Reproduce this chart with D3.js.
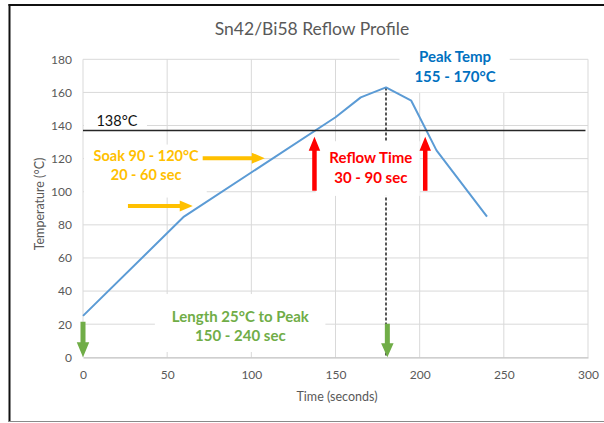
<!DOCTYPE html>
<html>
<head>
<meta charset="utf-8">
<script src="https://cdn.jsdelivr.net/npm/d3@7"></script>
<style>
  html, body { margin: 0; padding: 0; background: #fff; }
  svg { display: block; }
  text { font-family: Lato, "Open Sans", sans-serif; }
</style>
</head>
<body>
<svg id="chart"></svg>
<script>
// reflow profile (time in s, temperature in °C)
const times = [0, 60, 150, 165, 180, 195, 210, 240];
const temps = [25, 85, 145, 157, 163, 155, 125, 85];
const xTicks = [0, 50, 100, 150, 200, 250, 300];
const yTicks = [0, 20, 40, 60, 80, 100, 120, 140, 160, 180];
const liquidus = 137;   // where the 138°C line sits on the chart
const peakTime = 180;
const peakTemp = 163;

const width = 604;
const height = 423;
const margin = { top: 59.3, right: 16, bottom: 65.7, left: 83 };

const svg = d3.select('#chart')
  .attr('width', width)
  .attr('height', height);

// outer frame
svg.append('rect')
  .attr('x', 0).attr('y', 0).attr('width', width).attr('height', height)
  .attr('fill', '#fff');
svg.append('line')
  .attr('x1', 9.5).attr('x2', 9.5).attr('y1', 4).attr('y2', 422)
  .attr('stroke', '#111').attr('stroke-width', 2);
svg.append('line')
  .attr('x1', 8.5).attr('x2', width).attr('y1', 5).attr('y2', 5)
  .attr('stroke', '#111').attr('stroke-width', 2);
svg.append('line')
  .attr('x1', 8.5).attr('x2', width).attr('y1', 421.5).attr('y2', 421.5)
  .attr('stroke', '#8a8a8a').attr('stroke-width', 1.2);

const xScale = d3.scaleLinear()
  .domain([0, 300])
  .range([margin.left, width - margin.right]);

const yScale = d3.scaleLinear()
  .domain([0, 180])
  .range([height - margin.bottom, margin.top]);

// title
svg.append('text')
  .attr('x', 312).attr('y', 34.5)
  .attr('text-anchor', 'middle')
  .attr('fill', '#595959')
  .style('font-size', '17.5px')
  .text('Sn42/Bi58 Reflow Profile');

// grid lines
svg.append('g')
  .selectAll('line')
  .data(yTicks.slice(1))
  .enter()
  .append('line')
  .attr('x1', xScale(0)).attr('x2', xScale(300))
  .attr('y1', d => yScale(d)).attr('y2', d => yScale(d))
  .attr('stroke', '#d9d9d9').attr('stroke-width', 1);

svg.append('g')
  .selectAll('line')
  .data(xTicks)
  .enter()
  .append('line')
  .attr('x1', d => xScale(d)).attr('x2', d => xScale(d))
  .attr('y1', yScale(0)).attr('y2', yScale(180))
  .attr('stroke', '#d9d9d9').attr('stroke-width', 1);

// X axis
const xAxis = svg.append('g')
  .attr('transform', `translate(0,${yScale(0)})`)
  .call(d3.axisBottom(xScale).tickValues(xTicks).tickSize(0).tickPadding(13));
xAxis.select('.domain').attr('stroke', '#bfbfbf').attr('stroke-width', 1.3);
xAxis.selectAll('text')
  .attr('fill', '#595959')
  .style('font-size', '12px')
  .style('font-family', 'Lato, sans-serif');

// Y axis
const yAxis = svg.append('g')
  .attr('transform', `translate(${xScale(0)},0)`)
  .call(d3.axisLeft(yScale).tickValues(yTicks).tickSize(0).tickPadding(11));
yAxis.select('.domain').remove();
yAxis.selectAll('text')
  .attr('fill', '#595959')
  .style('font-size', '12px')
  .style('font-family', 'Lato, sans-serif');

// axis titles
svg.append('text')
  .attr('x', 337).attr('y', 401)
  .attr('text-anchor', 'middle')
  .attr('fill', '#595959')
  .style('font-size', '12.5px')
  .text('Time (seconds)');

svg.append('text')
  .attr('transform', 'translate(44,204) rotate(-90)')
  .attr('text-anchor', 'middle')
  .attr('fill', '#595959')
  .style('font-size', '12.5px')
  .text('Temperature (°C)');

// dashed line from peak down to the axis
svg.append('line')
  .attr('x1', xScale(peakTime)).attr('x2', xScale(peakTime))
  .attr('y1', yScale(peakTemp)).attr('y2', yScale(0))
  .attr('stroke', '#111').attr('stroke-width', 1.4)
  .attr('stroke-dasharray', '3,2');

// white label boxes (they hide the grid behind the labels)
const boxes = [
  { x0: 0.6, x1: 38, y0: 129, y1: 148 },      // 138°C
  { x0: 0.6, x1: 73.5, y0: 96.5, y1: 128.5 }, // soak
  { x0: 138.2, x1: 200, y0: 97.5, y1: 130.5 },// reflow
  { x0: 188, x1: 253.5, y0: 160, y1: 188 },   // peak
  { x0: 42.7, x1: 144, y0: 3.2, y1: 38.2 }    // length
];
svg.append('g')
  .selectAll('rect')
  .data(boxes)
  .enter()
  .append('rect')
  .attr('x', d => xScale(d.x0))
  .attr('width', d => xScale(d.x1) - xScale(d.x0))
  .attr('y', d => yScale(d.y1))
  .attr('height', d => yScale(d.y0) - yScale(d.y1))
  .attr('fill', '#fff');

// profile line
const line = d3.line()
  .x((d, i) => xScale(times[i]))
  .y(d => yScale(d));

svg.append('path')
  .datum(temps)
  .attr('d', line)
  .attr('fill', 'none')
  .attr('stroke', '#5b9bd5')
  .attr('stroke-width', 2)
  .attr('stroke-linejoin', 'round');

// 138°C line
svg.append('line')
  .attr('x1', xScale(0)).attr('x2', xScale(298.5))
  .attr('y1', yScale(liquidus)).attr('y2', yScale(liquidus))
  .attr('stroke', '#262626').attr('stroke-width', 1.6);

// labels
const labels = [
  { x: 8, y: 140, lines: ['138°C'], color: '#111', weight: 'normal', anchor: 'start', size: 14.5 },
  { x: 37.5, y: 118.8, lines: ['Soak 90 - 120°C', '20 - 60 sec'], color: '#ffc000', weight: 'bold', anchor: 'middle', size: 14.5 },
  { x: 171, y: 117.3, lines: ['Reflow Time', '30 - 90 sec'], color: '#ff0000', weight: 'bold', anchor: 'middle', size: 15 },
  { x: 221, y: 178.3, lines: ['Peak Temp', '155 - 170°C'], color: '#0070c0', weight: 'bold', anchor: 'middle', size: 15 },
  { x: 93.5, y: 21.5, lines: ['Length 25°C to Peak', '150 - 240 sec'], color: '#70ad47', weight: 'bold', anchor: 'middle', size: 15 }
];

labels.forEach(l => {
  const t = svg.append('text')
    .attr('x', xScale(l.x))
    .attr('y', yScale(l.y))
    .attr('text-anchor', l.anchor)
    .attr('fill', l.color)
    .style('font-size', l.size + 'px')
    .style('font-weight', l.weight);
  l.lines.forEach((s, i) => {
    t.append('tspan')
      .attr('x', xScale(l.x))
      .attr('dy', i === 0 ? 0 : 19.5)
      .text(s);
  });
});

// block arrows
function arrowPoints(x1, y1, x2, y2, shaft, headLen, headW) {
  const dx = x2 - x1, dy = y2 - y1;
  const len = Math.hypot(dx, dy);
  const ux = dx / len, uy = dy / len;
  const px = -uy, py = ux;
  const bx = x2 - ux * headLen, by = y2 - uy * headLen;
  const s = shaft / 2, h = headW / 2;
  return [
    [x1 + px * s, y1 + py * s],
    [bx + px * s, by + py * s],
    [bx + px * h, by + py * h],
    [x2, y2],
    [bx - px * h, by - py * h],
    [bx - px * s, by - py * s],
    [x1 - px * s, y1 - py * s]
  ];
}

const arrows = [
  { x1: 26.7, y1: 91.4, x2: 65.2, y2: 91.4, color: '#ffc000', shaft: 4, head: 13, w: 11 },
  { x1: 71.1, y1: 120.3, x2: 108, y2: 120.3, color: '#ffc000', shaft: 4, head: 13, w: 11 },
  { x1: 137.5, y1: 100.6, x2: 137.5, y2: 133.2, color: '#ff0000', shaft: 4.5, head: 14, w: 11.5 },
  { x1: 203.3, y1: 100.6, x2: 203.3, y2: 133.2, color: '#ff0000', shaft: 4.5, head: 14, w: 11.5 },
  { x1: 0, y1: 21.5, x2: 0, y2: 0, color: '#70ad47', shaft: 5, head: 15, w: 12.5 },
  { x1: 180.8, y1: 20.2, x2: 180.8, y2: 0, color: '#70ad47', shaft: 5, head: 14, w: 12.5 }
];

svg.append('g')
  .selectAll('polygon')
  .data(arrows)
  .enter()
  .append('polygon')
  .attr('points', d => arrowPoints(
    xScale(d.x1), yScale(d.y1), xScale(d.x2), yScale(d.y2), d.shaft, d.head, d.w
  ).map(p => p.join(',')).join(' '))
  .attr('fill', d => d.color);
</script>
</body>
</html>
